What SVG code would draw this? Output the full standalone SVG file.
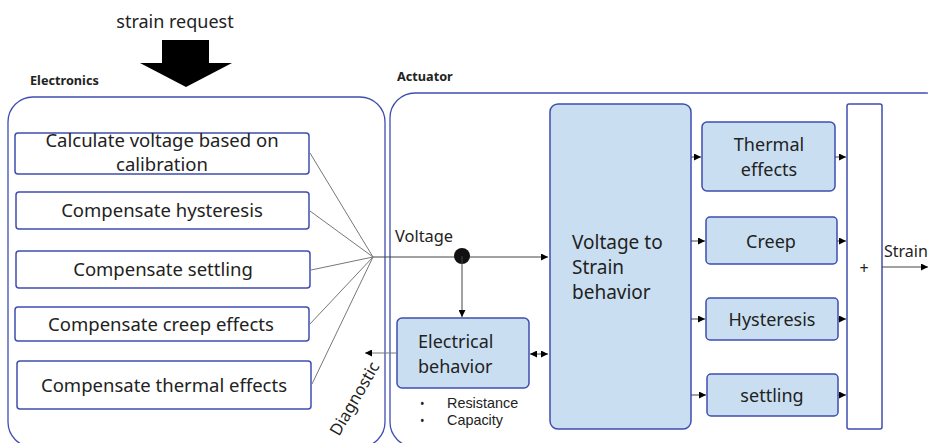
<svg xmlns="http://www.w3.org/2000/svg" width="928" height="443" viewBox="0 0 928 443">
<style>
text{font-family:"Noto Sans","Open Sans","DejaVu Sans",sans-serif;fill:#222}
.grp{fill:none;stroke:#3f4db0;stroke-width:1.3}
.wbox{fill:#fff;stroke:#3f4db0;stroke-width:1.5}
.bbox{fill:#c9dff1;stroke:#3f4db0;stroke-width:1.5}
.t17{font-size:18.5px;text-anchor:middle}
.t18{font-size:18px}
.tc{font-size:18px;text-anchor:middle}
.lbl{font-size:12.7px;font-weight:bold}
.bul{font-size:14.4px;font-family:"Liberation Sans",Arial,sans-serif}
.conn{fill:none;stroke:#777;stroke-width:1}
.arr{fill:none;stroke:#444;stroke-width:1}
</style>
<defs>
<marker id="ah" viewBox="0 0 10 10" refX="10" refY="5" markerWidth="7" markerHeight="7" orient="auto-start-reverse" markerUnits="userSpaceOnUse"><path d="M0,0 L10,5 L0,10 z" fill="#000"/></marker>
</defs>
<rect width="928" height="443" fill="#fff"/>

<g id="strain-request">
<text x="175" y="28" style="font-size:18px" text-anchor="middle">strain request</text>
<polygon points="162,40 209,40 209,63 232,63 186,87 140,63 162,63" fill="#000"/>
</g>

<g id="electronics">
<text class="lbl" x="30" y="85">Electronics</text>
<rect class="grp" x="8" y="97" width="377" height="350" rx="25"/>
</g>
<g id="actuator">
<text class="lbl" x="397" y="81">Actuator</text>
<rect class="grp" x="390" y="93" width="560" height="354" rx="25"/>
</g>

<g id="calc">
<rect class="wbox" x="15" y="133" width="294" height="41" rx="3"/>
<text class="t17" x="162" y="147">Calculate voltage based on</text>
<text class="t17" x="162" y="171">calibration</text>
</g>
<g id="comp-hyst">
<rect class="wbox" x="16" y="192" width="293" height="37" rx="3"/>
<text class="t17" x="162" y="217">Compensate hysteresis</text>
</g>
<g id="comp-settling">
<rect class="wbox" x="16" y="251" width="294" height="37" rx="3"/>
<text class="t17" x="163" y="276">Compensate settling</text>
</g>
<g id="comp-creep">
<rect class="wbox" x="15" y="307" width="294" height="34" rx="3"/>
<text class="t17" x="161" y="331">Compensate creep effects</text>
</g>
<g id="comp-thermal">
<rect class="wbox" x="17" y="361" width="294" height="48" rx="3"/>
<text class="t17" x="164" y="392">Compensate thermal effects</text>
</g>

<g id="electrical">
<rect class="bbox" x="397" y="318" width="132" height="70" rx="5"/>
<text class="t18" x="418" y="348">Electrical</text>
<text class="t18" x="418" y="373">behavior</text>
<text x="420" y="408" style="font-size:12px">•</text>
<text class="bul" x="447" y="408">Resistance</text>
<text x="420" y="425" style="font-size:12px">•</text>
<text class="bul" x="447" y="425">Capacity</text>
</g>

<g id="v2s">
<rect class="bbox" x="550" y="104" width="141" height="325" rx="8"/>
<text class="t18" x="572" y="249" style="font-size:19px">Voltage to</text>
<text class="t18" x="572" y="274" style="font-size:19px">Strain</text>
<text class="t18" x="572" y="299" style="font-size:19px">behavior</text>
</g>

<g id="thermal">
<rect class="bbox" x="702" y="122" width="133" height="69" rx="5"/>
<text class="tc" x="769" y="151">Thermal</text>
<text class="tc" x="769" y="176">effects</text>
</g>
<g id="creep">
<rect class="bbox" x="706" y="217" width="131" height="47" rx="4"/>
<text class="tc" x="771" y="248">Creep</text>
</g>
<g id="hysteresis">
<rect class="bbox" x="706" y="298" width="132" height="42" rx="4"/>
<text class="tc" x="772" y="326">Hysteresis</text>
</g>
<g id="settling">
<rect class="bbox" x="707" y="374" width="131" height="42" rx="4"/>
<text class="tc" x="772" y="402">settling</text>
</g>

<g id="sum">
<rect class="wbox" x="847" y="104" width="35" height="325" rx="2"/>
<text class="tc" x="864" y="274" style="font-size:16px">+</text>
</g>

<g id="connectors">
<line class="conn" x1="310" y1="153" x2="373" y2="257"/>
<line class="conn" x1="310" y1="211" x2="373" y2="257"/>
<line class="conn" x1="311" y1="270" x2="373" y2="257"/>
<line class="conn" x1="309" y1="325" x2="373" y2="257"/>
<line class="conn" x1="312" y1="384" x2="373" y2="257"/>
<line class="arr" x1="373" y1="257" x2="548" y2="257" marker-end="url(#ah)"/>
<circle cx="462" cy="256" r="8" fill="#111"/>
<line class="arr" x1="462" y1="256" x2="462" y2="317" marker-end="url(#ah)"/>
<line class="conn" x1="397" y1="353" x2="365" y2="353" marker-end="url(#ah)"/>
<line class="arr" x1="530" y1="354" x2="548" y2="354" marker-start="url(#ah)" marker-end="url(#ah)"/>
<line class="arr" x1="691" y1="157" x2="701" y2="157" marker-end="url(#ah)"/>
<line class="arr" x1="691" y1="241" x2="705" y2="241" marker-end="url(#ah)"/>
<line class="arr" x1="691" y1="319" x2="705" y2="319" marker-end="url(#ah)"/>
<line class="arr" x1="691" y1="395" x2="706" y2="395" marker-end="url(#ah)"/>
<line class="arr" x1="835" y1="157" x2="846" y2="157" marker-end="url(#ah)"/>
<line class="arr" x1="837" y1="241" x2="846" y2="241" marker-end="url(#ah)"/>
<line class="arr" x1="838" y1="319" x2="846" y2="319" marker-end="url(#ah)"/>
<line class="arr" x1="838" y1="395" x2="846" y2="395" marker-end="url(#ah)"/>
<line class="arr" x1="882" y1="267" x2="928" y2="267" marker-end="url(#ah)"/>
<text x="395" y="242" style="font-size:16.4px">Voltage</text>
<text x="884" y="257" style="font-size:16px">Strain</text>
<text x="0" y="0" style="font-size:16.5px" transform="translate(339,437) rotate(-60)">Diagnostic</text>
</g>
</svg>
